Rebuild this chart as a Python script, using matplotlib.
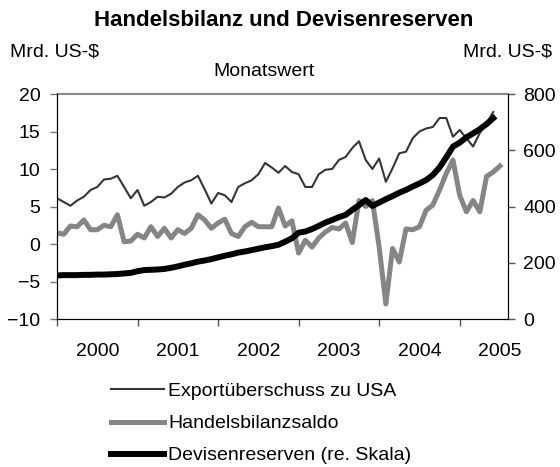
import numpy as np
import matplotlib
matplotlib.use('Agg')
from matplotlib import pyplot as plt
from matplotlib.ticker import FixedLocator, NullFormatter, FixedFormatter

plt.rcParams['font.family'] = ['Liberation Sans', 'DejaVu Sans']

# monthly values, Jan 2000 onwards
export_usa = [6.1, 5.6, 5.1, 5.8, 6.3, 7.2, 7.6, 8.6, 8.7, 9.1, 7.6, 6.1,
              7.2, 5.1, 5.6, 6.3, 6.2, 6.7, 7.6, 8.2, 8.5, 9.1, 7.3, 5.4,
              6.8, 6.5, 5.6, 7.6, 8.1, 8.5, 9.3, 10.8, 10.2, 9.5, 10.4, 9.6,
              9.3, 7.6, 7.6, 9.3, 9.9, 10.0, 11.2, 11.6, 12.8, 13.7, 11.2, 10.0,
              11.4, 8.3, 10.1, 12.1, 12.3, 14.1, 15.0, 15.4, 15.6, 16.8, 16.8, 14.3,
              15.2, 14.1, 13.0, 14.8, 16.1, 17.6]
handelsbilanz = [1.5, 1.3, 2.4, 2.3, 3.2, 1.9, 1.9, 2.5, 2.3, 3.9, 0.3, 0.4,
                 1.3, 0.8, 2.3, 1.0, 2.1, 0.8, 1.9, 1.4, 2.1, 3.9, 3.2, 2.1,
                 2.8, 3.3, 1.4, 1.0, 2.3, 2.9, 2.3, 2.3, 2.3, 4.8, 2.4, 3.1,
                 -1.2, 0.5, -0.4, 0.8, 1.6, 2.2, 2.0, 2.8, 0.2, 5.8, 5.0, 5.8,
                 -0.4, -8.0, -0.6, -2.4, 2.0, 1.9, 2.3, 4.5, 5.2, 7.2, 9.4, 11.2,
                 6.5, 4.3, 5.8, 4.3, 9.0, 9.6, 10.4]
devisen = [155, 156, 156, 156, 157, 157, 158, 158, 159, 160, 162, 164,
           170, 174, 175, 176, 178, 182, 187, 193, 198, 204, 208, 213,
           219, 225, 230, 236, 240, 245, 250, 255, 259, 264, 275, 287,
           307, 311, 320, 331, 343, 352, 362, 370, 388, 405, 423, 402,
           414, 426, 437, 449, 459, 471, 482, 494, 512, 539, 575, 613,
           627, 646, 660, 675, 693, 714]
years = ['2000', '2001', '2002', '2003', '2004', '2005']

t1 = 2000 + np.arange(len(export_usa)) / 12
t2 = 2000 + np.arange(len(handelsbilanz)) / 12
t3 = 2000 + np.arange(len(devisen)) / 12

fig = plt.figure(figsize=(5.6, 4.67), dpi=100)
ax = fig.add_axes([57/560, 1-319/467, (508-57)/560, (319-94)/467])
ax2 = ax.twinx()

l1, = ax.plot(t1, export_usa, color='#353535', lw=1.5)
l2, = ax.plot(t2, handelsbilanz, color='#858585', lw=3.6)
l3, = ax2.plot(t3, devisen, color='black', lw=4.3)

ax.set_xlim(2000, 2005.6)
ax.set_ylim(-10, 20)
ax2.set_ylim(0, 800)
ax.set_yticks(range(-10, 21, 5))
ax2.set_yticks(range(0, 801, 200))

ax.xaxis.set_major_locator(FixedLocator(range(2000, 2006)))
ax.xaxis.set_major_formatter(NullFormatter())
ax.xaxis.set_minor_locator(FixedLocator([y + 0.5 for y in range(2000, 2006)]))
ax.xaxis.set_minor_formatter(FixedFormatter(years))
ax.tick_params(axis='x', which='minor', length=0, pad=17, labelsize=14)
ax.tick_params(axis='x', which='major', length=5, width=1, color='#555555')
ax.tick_params(axis='y', length=5, width=1, pad=7, labelsize=14, color='#777777')
ax2.tick_params(axis='y', length=5, width=1, pad=6, labelsize=14, color='#555555')

for a in (ax, ax2):
    a.spines['top'].set_color('#888888')
    a.spines['top'].set_linewidth(1.5)
ax2.spines['top'].set_visible(False)

fig.text(284/560, 1-21/467, 'Handelsbilanz und Devisenreserven', ha='center', va='center',
         fontsize=16, fontweight='bold')
fig.text(10/560, 1-52/467, 'Mrd. US-$', ha='left', va='center', fontsize=14)
fig.text(552/560, 1-52/467, 'Mrd. US-$', ha='right', va='center', fontsize=14)
fig.text(264/560, 1-71/467, 'Monatswert', ha='center', va='center', fontsize=14)

fig.legend([l1, l2, l3], ['Exportüberschuss zu USA', 'Handelsbilanzsaldo', 'Devisenreserven (re. Skala)'],
           loc='upper left', bbox_to_anchor=(94/560, 1-365/467), frameon=False,
           fontsize=14, handlelength=2.7, handletextpad=0.2, labelspacing=0.75)

fig.savefig('out.png', dpi=100)
